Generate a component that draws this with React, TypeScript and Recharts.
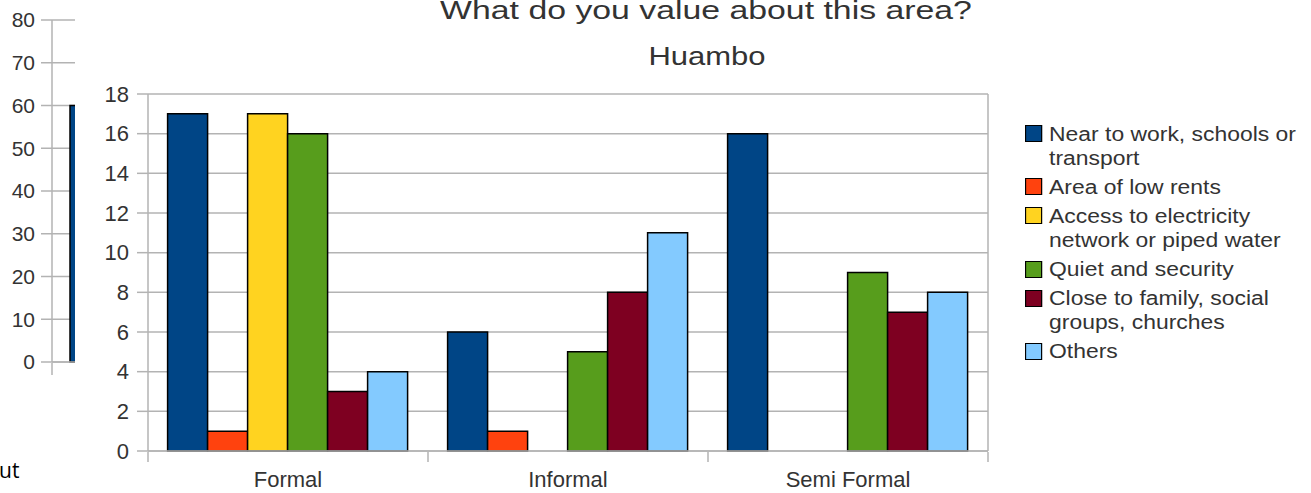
import React from 'react'
import { BarChart, Bar, XAxis, YAxis, CartesianGrid, ReferenceLine } from 'recharts'

// front chart: Huambo
const categories = ['Formal', 'Informal', 'Semi Formal']
const seriesNames = [
    'Near to work, schools or transport',
    'Area of low rents',
    'Access to electricity network or piped water',
    'Quiet and security',
    'Close to family, social groups, churches',
    'Others',
]
const seriesColors = ['#004586', '#ff420e', '#ffd320', '#579d1c', '#7e0021', '#83caff']
const nearWork = [17, 6, 16]
const lowRents = [1, 1, 0]
const electricity = [17, 0, 0]
const quietSecurity = [16, 5, 9]
const closeFamily = [3, 8, 7]
const others = [4, 11, 8]
const yTicks = [0, 2, 4, 6, 8, 10, 12, 14, 16, 18]
const boundaryTicks = [0, 1, 2, 3]

// chart behind it, mostly hidden
const backCategories = ['']
const backValues = [60]
const backTicks = [0, 10, 20, 30, 40, 50, 60, 70, 80]

const seriesValues = [nearWork, lowRents, electricity, quietSecurity, closeFamily, others]

const GRID = '#b3b3b3'
const TEXT = '#333333'
const FONT = '"Liberation Sans", Arial, sans-serif'

export default function App() {
    const data = categories.map((name, i) => {
        const row: any = { name, idx: i }
        seriesValues.forEach((vals, s) => {
            row['s' + s] = vals[i]
        })
        return row
    })
    const backData = backCategories.map((name, i) => ({ name, idx: i, v: backValues[i] }))

    return (
        <div style={{ position: 'absolute', left: 0, top: 0, width: 1311, height: 493, overflow: 'hidden', background: '#fff', fontFamily: FONT }}>
            {/* back chart */}
            <div style={{ position: 'absolute', left: 0, top: 0 }}>
                <BarChart width={300} height={400} data={backData} margin={{ top: 20, right: 152, bottom: 36, left: 0 }}>
                    <CartesianGrid vertical={false} stroke={GRID} strokeWidth={1.5} />
                    <XAxis dataKey="name" height={1} tick={false} tickLine={false} axisLine={{ stroke: GRID, strokeWidth: 1.5 }} />
                    <XAxis xAxisId="b" type="number" dataKey="idx" domain={[0, 1]} ticks={[0]} height={1}
                        tickSize={12} tickFormatter={() => ''} axisLine={false} tickLine={{ stroke: GRID, strokeWidth: 1.5 }} />
                    <YAxis width={52} domain={[0, 80]} ticks={backTicks} tickSize={11} tickMargin={6}
                        axisLine={{ stroke: GRID, strokeWidth: 1.5 }} tickLine={{ stroke: GRID, strokeWidth: 1.5 }}
                        tick={{ fill: TEXT, fontSize: 21, fontFamily: FONT }} />
                    <Bar dataKey="v" fill={seriesColors[0]} stroke="#000" strokeWidth={1.5} barSize={60} isAnimationActive={false} />
                </BarChart>
            </div>
            <span style={{ position: 'absolute', left: -1, top: 456, fontFamily: '"Open Sans", sans-serif', fontSize: 21, color: '#000', lineHeight: '28px' }}>ut</span>

            {/* front chart */}
            <div style={{ position: 'absolute', left: 75, top: 0, width: 1236, height: 493, background: '#fff' }}>
                <BarChart width={1236} height={493} data={data} margin={{ top: 94, right: 323, bottom: 40, left: 0 }}
                    barCategoryGap="7%" barGap={0}>
                    <CartesianGrid vertical={false} stroke={GRID} strokeWidth={1.5} />
                    <XAxis dataKey="name" height={1} tickLine={false} tickSize={0} tickMargin={20}
                        axisLine={{ stroke: GRID, strokeWidth: 1.5 }} tick={{ fill: TEXT, fontSize: 22, fontFamily: FONT }} />
                    <XAxis xAxisId="b" type="number" dataKey="idx" domain={[0, 3]} ticks={boundaryTicks} height={1}
                        tickSize={10} tickFormatter={() => ''} axisLine={false} tickLine={{ stroke: GRID, strokeWidth: 1.5 }} />
                    <YAxis width={73} domain={[0, 18]} ticks={yTicks} tickSize={11} tickMargin={8}
                        axisLine={{ stroke: GRID, strokeWidth: 1.5 }} tickLine={{ stroke: GRID, strokeWidth: 1.5 }}
                        tick={{ fill: TEXT, fontSize: 22, fontFamily: FONT }} />
                    <ReferenceLine x={3} xAxisId="b" stroke={GRID} strokeWidth={1.5} />
                    {seriesNames.map((n, s) => (
                        <Bar key={n} dataKey={'s' + s} name={n} fill={seriesColors[s]} stroke="#000" strokeWidth={1.5} isAnimationActive={false} />
                    ))}
                </BarChart>
            </div>

            {/* titles */}
            <div style={{ position: 'absolute', left: 706, top: -3.5, fontSize: 26, lineHeight: 1, color: TEXT, whiteSpace: 'nowrap', transform: 'translateX(-50%) scaleX(1.3)' }}>
                What do you value about this area?
            </div>
            <div style={{ position: 'absolute', left: 707, top: 44, fontSize: 25, lineHeight: 1, color: TEXT, whiteSpace: 'nowrap', transform: 'translateX(-50%) scaleX(1.24)' }}>
                Huambo
            </div>

            {/* legend */}
            <div style={{ position: 'absolute', left: 1025, top: 121.5, transform: 'scaleX(1.145)', transformOrigin: 'left top', fontSize: 20, lineHeight: '24px', color: TEXT }}>
                {seriesNames.map((n, s) => (
                    <div key={n} style={{ display: 'flex', alignItems: 'flex-start', marginBottom: 5.2 }}>
                        <div style={{ width: 15, height: 17, boxSizing: 'border-box', border: '1.5px solid #000', background: seriesColors[s], marginTop: 3.5, marginRight: 6, flexShrink: 0 }} />
                        <div style={{ width: 222 }}>{n}</div>
                    </div>
                ))}
            </div>
        </div>
    )
}
